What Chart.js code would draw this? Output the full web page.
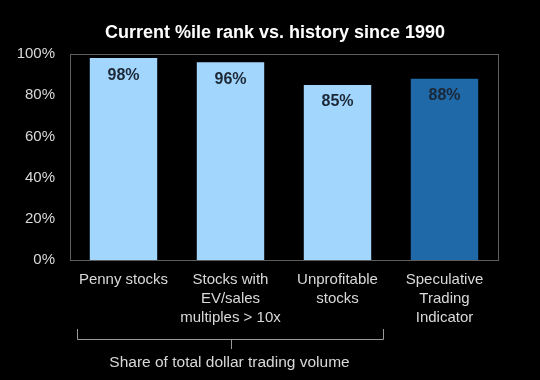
<!DOCTYPE html>
<html>
<head>
<meta charset="utf-8">
<script src="https://cdn.jsdelivr.net/npm/chart.js@4/dist/chart.umd.min.js"></script>
<style>
html,body{margin:0;padding:0;background:#000;}
#wrap{width:540px;height:380px;}
</style>
</head>
<body>
<div id="wrap"><canvas id="c" width="540" height="380"></canvas></div>
<script>
const categories = [
  "Penny stocks",
  ["Stocks with", "EV/sales", "multiples > 10x"],
  ["Unprofitable", "stocks"],
  ["Speculative", "Trading", "Indicator"]
];
const values = [98, 96, 85, 88];
const valueLabels = ["98%", "96%", "85%", "88%"];
const barColors = ["#a3d6fd", "#a3d6fd", "#a3d6fd", "#1f69a8"];
const yTicks = [0, 20, 40, 60, 80, 100];
const titleText = "Current %ile rank vs. history since 1990";
const bracketText = "Share of total dollar trading volume";
const bracketFirst = 0, bracketLast = 2;

const FONT = "'Liberation Sans', Arial, sans-serif";

const bgPlugin = {
  id: 'bg',
  beforeDraw(chart) {
    const ctx = chart.ctx;
    ctx.save();
    ctx.fillStyle = '#000';
    ctx.fillRect(0, 0, chart.width, chart.height);
    ctx.font = "bold 18px " + FONT;
    ctx.fillStyle = '#ffffff';
    ctx.textAlign = 'center';
    ctx.textBaseline = 'middle';
    ctx.fillText(titleText, 275, 33);
    ctx.restore();
  },
  beforeDatasetsDraw(chart) {
    const a = chart.chartArea, ctx = chart.ctx;
    ctx.save();
    ctx.strokeStyle = '#5e5e5e';
    ctx.lineWidth = 1;
    ctx.strokeRect(Math.round(a.left) + 0.5, Math.round(a.top) + 0.5, Math.round(a.right - a.left), Math.round(a.bottom - a.top));
    ctx.restore();
  }
};

const labelPlugin = {
  id: 'vlabels',
  afterDatasetsDraw(chart) {
    const ctx = chart.ctx;
    const meta = chart.getDatasetMeta(0);
    ctx.save();
    ctx.font = "bold 16px " + FONT;
    ctx.fillStyle = '#1b2735';
    ctx.textAlign = 'center';
    ctx.textBaseline = 'middle';
    meta.data.forEach((bar, i) => {
      ctx.fillText(valueLabels[i], bar.x, bar.y + 17);
    });
    ctx.restore();
  }
};

const bracketPlugin = {
  id: 'bracket',
  afterDraw(chart) {
    const x = chart.scales.x, ctx = chart.ctx;
    const half = (x.getPixelForValue(1) - x.getPixelForValue(0)) / 2;
    const x0 = Math.round(x.getPixelForValue(bracketFirst) - half + 7) + 0.5;
    const x1 = Math.round(x.getPixelForValue(bracketLast) + half - 8) + 0.5;
    const xm = Math.round((x0 + x1) / 2) + 0.5;
    const yLine = 339.5, yTop = 329, yTick = 349;
    ctx.save();
    ctx.strokeStyle = '#9a9a9a';
    ctx.lineWidth = 1;
    ctx.beginPath();
    ctx.moveTo(x0, yTop);
    ctx.lineTo(x0, yLine);
    ctx.lineTo(x1, yLine);
    ctx.lineTo(x1, yTop);
    ctx.moveTo(xm, yLine);
    ctx.lineTo(xm, yTick);
    ctx.stroke();
    ctx.font = "15.5px " + FONT;
    ctx.fillStyle = '#d9d9d9';
    ctx.textAlign = 'center';
    ctx.textBaseline = 'middle';
    ctx.fillText(bracketText, xm - 2, 363);
    ctx.restore();
  }
};

new Chart(document.getElementById('c'), {
  type: 'bar',
  data: {
    labels: categories,
    datasets: [{
      data: values,
      backgroundColor: barColors,
      borderWidth: 0,
      categoryPercentage: 1.0,
      barPercentage: 0.63
    }]
  },
  options: {
    responsive: false,
    animation: false,
    devicePixelRatio: 1,
    layout: { padding: { left: 0, right: 42, top: 54, bottom: 0 } },
    plugins: {
      legend: { display: false },
      tooltip: { enabled: false },
      title: { display: false }
    },
    scales: {
      x: {
        grid: { display: false, drawTicks: false },
        border: { display: false },
        ticks: {
          color: '#d9d9d9',
          font: { family: FONT, size: 15, lineHeight: 1.24 },
          padding: 11,
          maxRotation: 0,
          autoSkip: false
        },
        afterFit(scale) { scale.height = 120; }
      },
      y: {
        min: 0,
        max: 100,
        afterBuildTicks(scale) { scale.ticks = yTicks.map(v => ({ value: v })); },
        grid: { display: false, drawTicks: false },
        border: { display: false },
        ticks: {
          color: '#d9d9d9',
          font: { family: FONT, size: 15 },
          padding: 15,
          callback: v => v + '%'
        },
        afterFit(scale) { scale.width = 70; }
      }
    }
  },
  plugins: [bgPlugin, labelPlugin, bracketPlugin]
});
</script>
</body>
</html>
